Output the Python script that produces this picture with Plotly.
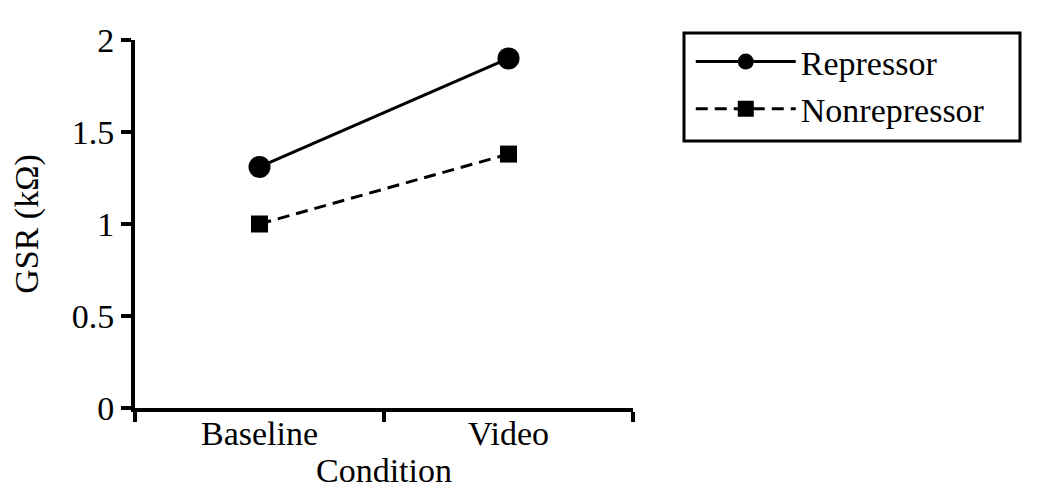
import plotly.graph_objects as go

categories = ["Baseline", "Video"]
repressor = [1.31, 1.90]
nonrepressor = [1.00, 1.38]
y_ticks = [0, 0.5, 1, 1.5, 2]
y_tick_labels = ["0", "0.5", "1", "1.5", "2"]

FONT = "Liberation Serif"
FS = 34

fig = go.Figure()
fig.add_trace(go.Scatter(
    x=categories, y=repressor, name="Repressor", mode="lines+markers",
    line=dict(color="black", width=3),
    marker=dict(symbol="circle", size=22, color="black"),
))
fig.add_trace(go.Scatter(
    x=categories, y=nonrepressor, name="Nonrepressor", mode="lines+markers",
    line=dict(color="black", width=3, dash="12px,7px"),
    marker=dict(symbol="square", size=17, color="black"),
))

fig.update_layout(
    width=1029, height=487,
    margin=dict(l=127, r=404, t=32, b=87, autoexpand=False),
    paper_bgcolor="white", plot_bgcolor="white",
    font=dict(family=FONT, size=FS, color="black"),
    showlegend=True,
    legend=dict(
        x=1.116, y=1.019, xanchor="left", yanchor="top",
        borderwidth=0, bgcolor="rgba(0,0,0,0)",
        font=dict(family=FONT, size=FS, color="black"),
        itemwidth=100, tracegroupgap=0,
    ),
)
# legend frame
fig.add_shape(type="rect", xref="paper", yref="paper",
              x0=1.1024, x1=1.7771, y0=0.7255, y1=1.019,
              line=dict(color="black", width=3), fillcolor="rgba(0,0,0,0)")

fig.update_xaxes(
    type="category", range=[-0.5, 1.5],
    showline=True, linecolor="black", linewidth=4,
    ticks="outside", tickson="boundaries", ticklen=10, tickwidth=4, tickcolor="black",
    showgrid=False, zeroline=False, automargin=False,
    tickfont=dict(family=FONT, size=FS), ticklabelstandoff=-8,
    title=dict(text="Condition", font=dict(family=FONT, size=FS), standoff=0),
)
fig.update_yaxes(
    range=[0, 2], tickvals=y_ticks, ticktext=y_tick_labels,
    showline=True, linecolor="black", linewidth=4,
    ticks="outside", ticklen=10, tickwidth=4, tickcolor="black",
    showgrid=False, zeroline=False, automargin=False,
    tickfont=dict(family=FONT, size=FS),
    title=dict(text="GSR (kΩ)", font=dict(family=FONT, size=FS), standoff=30),
)

fig.write_html("out.html")
